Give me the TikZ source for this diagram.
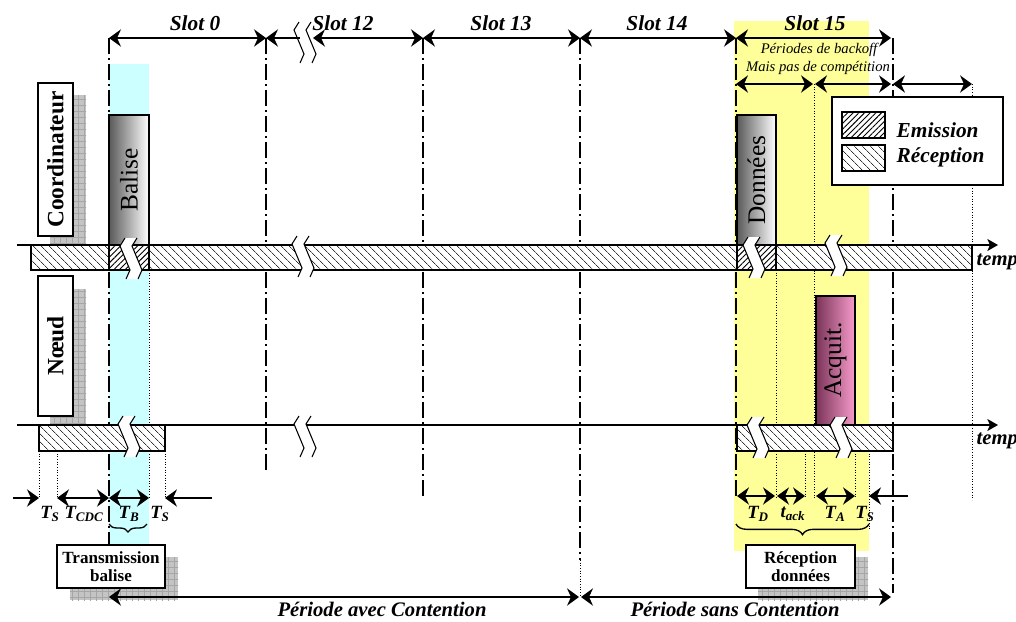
\documentclass[tikz,border=0pt]{standalone}
\usepackage{fontspec}
\setmainfont{Liberation Serif}
\usetikzlibrary{arrows.meta,patterns.meta,decorations.pathreplacing}
\definecolor{PaleYellow}{HTML}{FFFF99}
\definecolor{PaleCyan}{HTML}{CCFFFF}
\definecolor{DarkPlum}{HTML}{7A3358}
\definecolor{SoftPink}{HTML}{F79CCB}
\definecolor{ShadowGray}{HTML}{C4C4C4}

% break mark (white zig-zag band) centred at (#1,#2)
\newcommand{\brk}[2]{%
  \fill[white] (#1-8,#2-21) -- (#1-13,#2-13) -- (#1-3,#2+11) -- (#1-7,#2+20)
    -- (#1+5,#2+20) -- (#1+9,#2+11) -- (#1-1,#2-13) -- (#1+4,#2-21) -- cycle;
  \draw[line width=0.8pt] (#1-8,#2-21) -- (#1-13,#2-13) -- (#1-3,#2+11) -- (#1-7,#2+20);
  \draw[line width=0.8pt] (#1+4,#2-21) -- (#1-1,#2-13) -- (#1+9,#2+11) -- (#1+5,#2+20);
}

\begin{document}
\begin{tikzpicture}[x=0.75pt,y=0.75pt,yscale=-1,xscale=1,
  >={Stealth[length=9pt,width=13pt,inset=3pt]},
  dim/.style={line width=1pt},
  dashdot/.style={line width=0.8pt,dash pattern=on 12pt off 3pt on 1.5pt off 3pt},
  dotline/.style={line width=0.6pt,dash pattern=on 0.8pt off 1.2pt},
  recep/.style={preaction={fill=white},pattern={Lines[angle=-45,distance=4pt,line width=0.5pt]},pattern color=black!80},
  emis/.style={preaction={fill=white},pattern={Lines[angle=45,distance=3pt,line width=0.7pt]},pattern color=black},
  shadowbox/.style={preaction={fill=ShadowGray},pattern={Hatch[distance=4.5pt,line width=0.4pt]},pattern color=black!35},
  slotlabel/.style={font=\fontsize{16}{18}\selectfont\bfseries\itshape},
  boxlabel/.style={font=\fontsize{12.8}{14}\selectfont\bfseries,align=center},
  sublabel/.style={font=\fontsize{14}{16}\selectfont\bfseries\itshape},
  periodlabel/.style={font=\fontsize{15.5}{17}\selectfont\bfseries\itshape}]
  \useasboundingbox (0,0) rectangle (1016,621);

  % coloured bands
  \fill[PaleYellow] (734,21) rectangle (869,551);
  \fill[PaleCyan] (109,64) rectangle (149,545);

  % slot boundaries
  \draw[dashdot] (109,38) -- (109,598);
  \draw[dashdot] (266,38) -- (266,473);
  \draw[dashdot] (423,38) -- (423,497);
  \draw[dashdot] (580,38) -- (580,560);
  \draw[dotline] (580,560) -- (580,597);
  \draw[dashdot] (736,38) -- (736,498);
  \draw[dashdot] (893,38) -- (893,593);

  % dotted guides
  \draw[dotline] (149,270) -- (149,498);
  \draw[dotline] (39,451) -- (39,498);
  \draw[dotline] (57,451) -- (57,498);
  \draw[dotline] (165,451) -- (165,498);
  \draw[dotline] (776,270) -- (776,498);
  \draw[dotline] (805,451) -- (805,498);
  \draw[dotline] (814,84) -- (814,498);
  \draw[dotline] (855,451) -- (855,498);
  \draw[dotline] (869,451) -- (869,530);
  \draw[dotline] (972,84) -- (972,500);

  % shadows
  \path[shadowbox] (50,95) rectangle (86,248);
  \path[shadowbox] (50,289) rectangle (86,428);
  \path[shadowbox] (70,557) rectangle (178,600);
  \path[shadowbox] (758,557) rectangle (868,600);

  % side labels
  \node (coord) [draw,line width=1pt,fill=white,rotate=90,minimum width=114.75pt,minimum height=26.25pt,inner sep=0pt,font=\fontsize{17.5}{19}\selectfont\bfseries] at (55.5,159.5) {Coordinateur};
  \node (noeud) [draw,line width=1pt,fill=white,rotate=90,minimum width=105pt,minimum height=26.25pt,inner sep=0pt,font=\fontsize{17.5}{19}\selectfont\bfseries] at (55.5,346) {Nœud};

  % time axes
  \draw[line width=1pt,-{Stealth[length=8pt,width=9pt,inset=2pt]}] (17,245) -- (998,245);
  \draw[line width=1pt,-{Stealth[length=8pt,width=9pt,inset=2pt]}] (17,425) -- (998,425);

  % coordinator bar
  \draw[recep,line width=1pt] (31,245) rectangle (972,270);
  \draw[emis,line width=1pt] (109,245) rectangle (149,270);
  \draw[emis,line width=1pt] (737,245) rectangle (776,270);

  % node bars
  \draw[recep,line width=1pt] (39,425) rectangle (165,451);
  \draw[recep,line width=1pt] (737,425) rectangle (893,451);

  % frames
  \shade[left color=black!65,right color=white,draw,line width=1pt] (109,115) rectangle (149,245);
  \node (balise) [rotate=90,font=\fontsize{19}{21}\selectfont] at (129,180) {Balise};
  \shade[left color=black!65,right color=white,draw,line width=1pt] (737,115) rectangle (776,245);
  \node (donnees) [rotate=90,font=\fontsize{19}{21}\selectfont] at (756.5,180) {Données};
  \shade[left color=DarkPlum,right color=SoftPink,draw,line width=1pt] (816,296) rectangle (855,425);
  \node (acquit) [rotate=90,font=\fontsize{19}{21}\selectfont] at (835.5,360) {Acquit.};

  % breaks
  \brk{307}{43}
  \brk{133}{259}
  \brk{305}{257}
  \brk{756}{258}
  \brk{838}{256}
  \brk{131}{437}
  \brk{307}{437}
  \brk{760}{438}
  \brk{843}{438}

  % slot arrows
  \draw[dim,<->] (109,38) -- (266,38);
  \draw[dim,<-] (266,38) -- (300,38);
  \draw[dim,<->] (313,38) -- (423,38);
  \draw[dim,<->] (423,38) -- (580,38);
  \draw[dim,<->] (580,38) -- (736,38);
  \draw[dim,<->] (736,38) -- (891,38);
  \node (s0) [slotlabel] at (195,23) {Slot 0};
  \node (s12) [slotlabel] at (343,23) {Slot 12};
  \node (s13) [slotlabel] at (501,23) {Slot 13};
  \node (s14) [slotlabel] at (657,23) {Slot 14};
  \node (s15) [slotlabel] at (815,23) {Slot 15};

  % backoff periods
  \draw[dim,<->] (736,84) -- (813,84);
  \draw[dim,<->] (815,84) -- (891,84);
  \draw[dim,<->] (893,84) -- (972,84);
  \node (bo1) [font=\fontsize{11}{12}\selectfont\itshape] at (819,50) {Périodes de backoff};
  \node (bo2) [font=\fontsize{11}{12}\selectfont\itshape] at (818,68) {Mais pas de compétition};

  % legend
  \draw[line width=1pt,fill=white] (832,97) rectangle (1003,185);
  \draw[emis,line width=1pt] (842,112) rectangle (885,138);
  \draw[recep,line width=1pt] (842,145) rectangle (885,171);
  \node (lemis) [slotlabel,anchor=west] at (892,130) {Emission};
  \node (lrecep) [slotlabel,anchor=west] at (892,157) {Réception};

  % axis labels
  \node (t1) [periodlabel,anchor=west] at (972,262) {temps};
  \node (t2) [periodlabel,anchor=west] at (972,441) {temps};

  % beacon timings
  \draw[dim,->] (13,498) -- (39,498);
  \draw[dim,<->] (57,498) -- (109,498);
  \draw[dim,<->] (109,498) -- (149,498);
  \draw[dim,->] (212,498) -- (165,498);
  \node (ts1) [sublabel] at (50,514) {T\textsubscript{S}};
  \node (tcdc) [sublabel] at (84,514) {T\textsubscript{CDC}};
  \node (tb) [sublabel] at (129,514) {T\textsubscript{B}};
  \node (ts2) [sublabel] at (160,514) {T\textsubscript{S}};
  \draw[decorate,decoration={brace,amplitude=6pt,mirror},line width=1pt] (109,524) -- (147,524);
  \draw[line width=1pt,fill=white] (57,545) rectangle (165,588);
  \node (trans) [boxlabel] at (111,566.5) {Transmission\\balise};

  % data timings
  \draw[dim,<->] (737,496) -- (775,496);
  \draw[dim,<->] (777,496) -- (805,496);
  \draw[dim,<->] (816,496) -- (855,496);
  \draw[dim,->] (908,496) -- (869,496);
  \node (td) [sublabel] at (758,514) {T\textsubscript{D}};
  \node (tack) [sublabel] at (793,514) {t\textsubscript{ack}};
  \node (ta) [sublabel] at (835,514) {T\textsubscript{A}};
  \node (ts3) [sublabel] at (865,514) {T\textsubscript{S}};
  \draw[decorate,decoration={brace,amplitude=8pt,mirror},line width=1pt] (736,524) -- (869,524);
  \draw[line width=1pt,fill=white] (746,545) rectangle (855,588);
  \node (recd) [boxlabel] at (800.5,566.5) {Réception\\données};

  % periods
  \draw[dim,<->] (109,597) -- (579,597);
  \draw[dim,<->] (581,597) -- (891,597);
  \node (pac) [periodlabel] at (382,609) {Période avec Contention};
  \node (psc) [periodlabel] at (735,609) {Période sans Contention};
\end{tikzpicture}
\end{document}
